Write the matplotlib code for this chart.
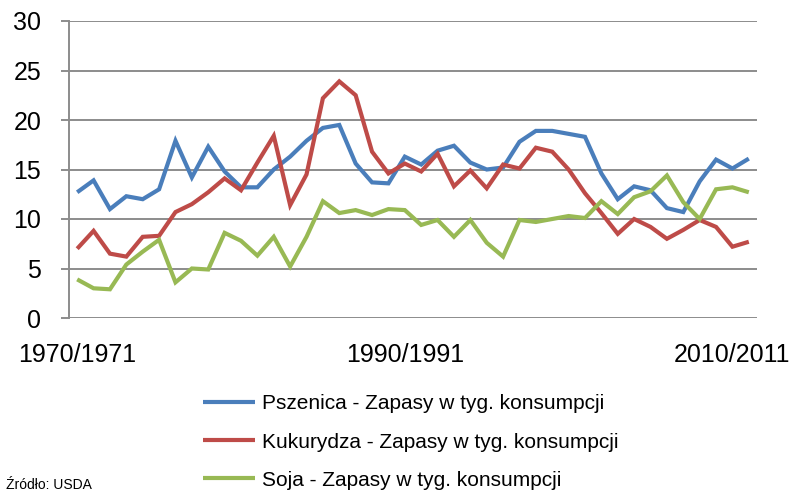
import matplotlib
matplotlib.use("Agg")
import matplotlib.pyplot as plt

plt.rcParams['font.family'] = ['Liberation Sans', 'DejaVu Sans']

c_blue = "#4a7ebb"
c_red = "#be4b48"
c_green = "#98b954"
c_grid = "#8c8c8c"

seasons = [str(y) + "/" + str(y + 1) for y in range(1970, 2012)]

pszenica = [12.7, 13.9, 11.0, 12.3, 12.0, 13.0, 17.9, 14.2, 17.3, 14.8,
            13.2, 13.2, 15.0, 16.3, 17.9, 19.2, 19.5, 15.6, 13.7, 13.6,
            16.3, 15.5, 16.9, 17.4, 15.7, 15.0, 15.2, 17.8, 18.9, 18.9,
            18.6, 18.3, 14.6, 12.0, 13.3, 12.9, 11.1, 10.7, 13.8, 16.0,
            15.1, 16.1]
kukurydza = [7.0, 8.8, 6.5, 6.2, 8.2, 8.3, 10.7, 11.5, 12.7, 14.1,
             12.9, 15.7, 18.4, 11.4, 14.5, 22.2, 23.9, 22.5, 16.8, 14.6,
             15.6, 14.8, 16.6, 13.3, 14.9, 13.1, 15.5, 15.1, 17.2, 16.8,
             15.0, 12.6, 10.6, 8.5, 10.0, 9.2, 8.0, 8.9, 9.9, 9.2,
             7.2, 7.7]
soja = [3.9, 3.0, 2.9, 5.4, 6.7, 7.9, 3.6, 5.0, 4.9, 8.6,
        7.8, 6.3, 8.2, 5.2, 8.2, 11.8, 10.6, 10.9, 10.4, 11.0,
        10.9, 9.4, 9.9, 8.2, 9.9, 7.6, 6.2, 9.9, 9.7, 10.0,
        10.3, 10.1, 11.8, 10.5, 12.2, 12.8, 14.4, 11.7, 10.0, 13.0,
        13.2, 12.7]

labels = ["Pszenica - Zapasy w tyg. konsumpcji",
          "Kukurydza - Zapasy w tyg. konsumpcji",
          "Soja - Zapasy w tyg. konsumpcji"]
tick_every = 20

fig = plt.figure(figsize=(7.94, 4.93), dpi=100)
ax = fig.add_axes([69 / 794, 1 - 318 / 493, 688 / 794, 297 / 493])

x = list(range(len(seasons)))
for vals, col, lab in zip([pszenica, kukurydza, soja],
                          [c_blue, c_red, c_green], labels):
    ax.plot(x, vals, color=col, lw=3.0, label=lab,
            solid_joinstyle="miter", solid_capstyle="butt")

ax.set_xlim(-0.5, len(seasons) - 0.5)
ax.set_ylim(0, 30)
ax.set_yticks(range(0, 31, 5))
ax.yaxis.grid(True, color=c_grid, lw=1.4)
ax.set_axisbelow(True)

ax.set_xticks(x[::tick_every])
ax.set_xticklabels(seasons[::tick_every])
ax.tick_params(axis="x", length=0, pad=18, labelsize=18)
ax.tick_params(axis="y", length=6, width=1.4, color=c_grid, pad=14, labelsize=18)

for s in ["top", "right", "bottom"]:
    ax.spines[s].set_visible(False)
ax.spines["left"].set_color(c_grid)
ax.spines["left"].set_linewidth(1.4)

fig.legend(loc="center left", bbox_to_anchor=(203 / 794, 1 - 442 / 493),
           frameon=False, fontsize=15, handlelength=2.5, handletextpad=0.35,
           labelspacing=0.92, borderpad=0, borderaxespad=0)

fig.text(6 / 794, 1 / 493, "Źródło: USDA", fontsize=10, va="bottom")

fig.savefig("out.png", dpi=100)
